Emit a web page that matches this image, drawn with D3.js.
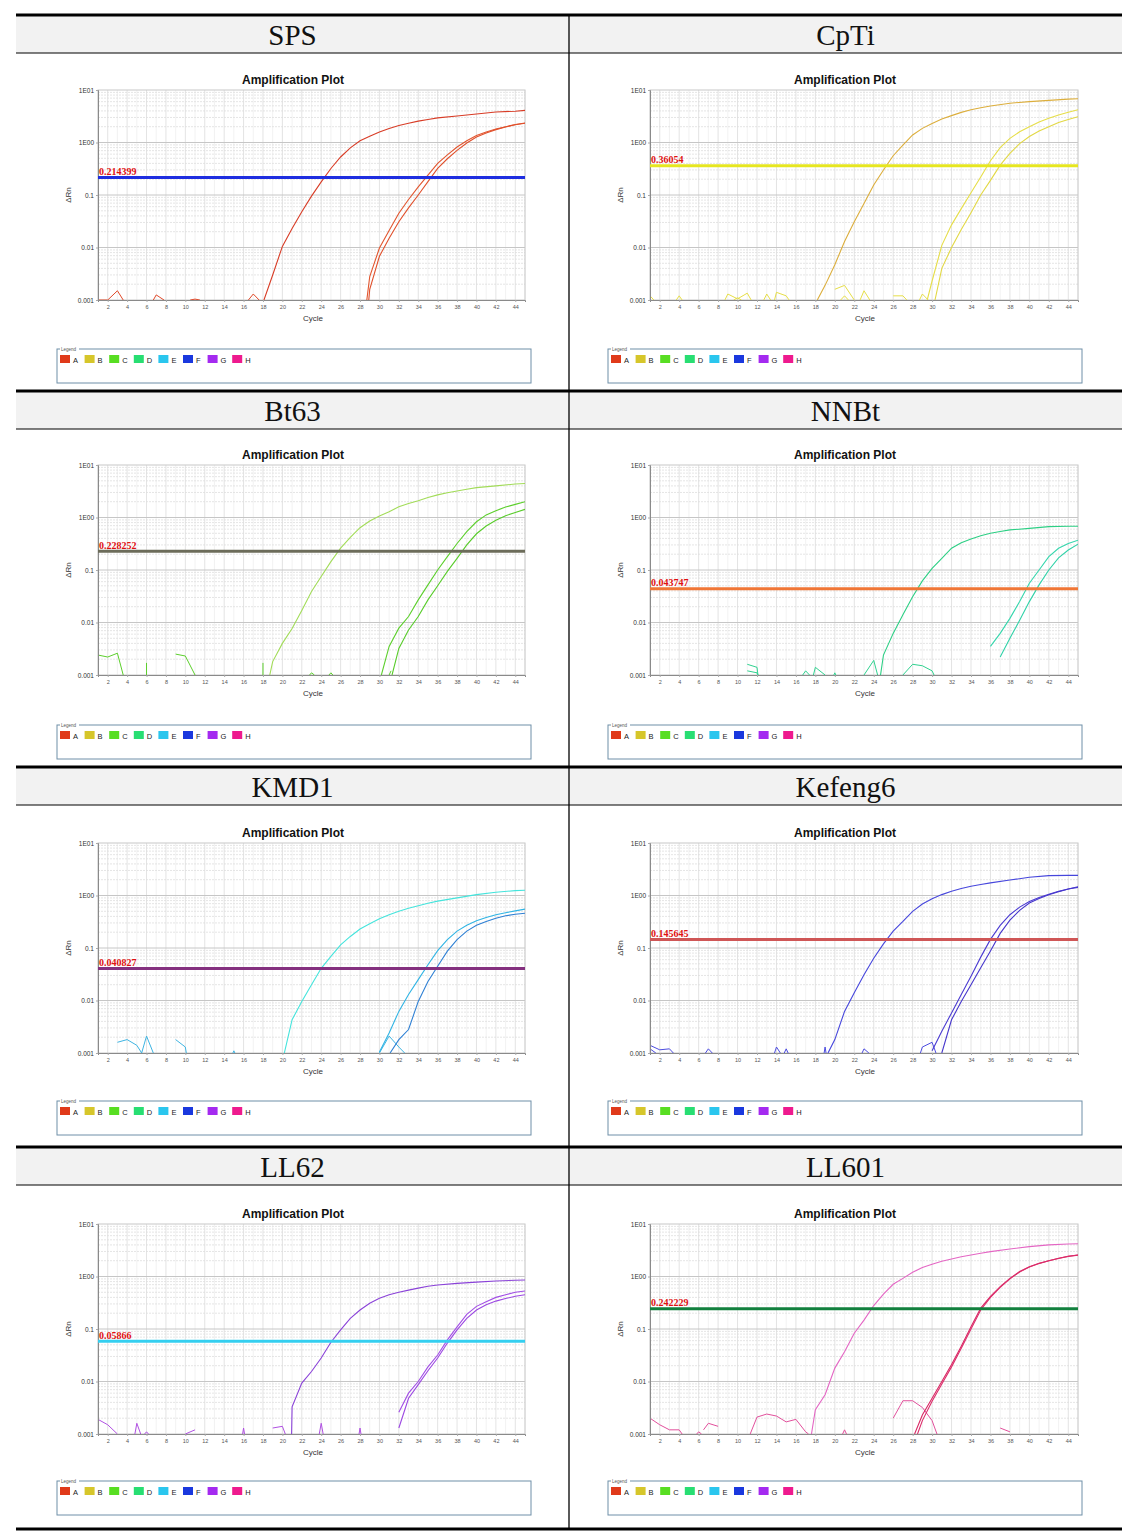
<!DOCTYPE html>
<html><head><meta charset="utf-8">
<script src="https://cdn.jsdelivr.net/npm/d3@7"></script>
<style>body{margin:0;background:#fff}svg{display:block}</style>
</head><body><svg id="c" width="1138" height="1532"></svg>
<script>
// ---------- DATA ----------
const headers = ["SPS","CpTi","Bt63","NNBt","KMD1","Kefeng6","LL62","LL601"];
const thresholds = [0.214399,0.36054,0.228252,0.043747,0.040827,0.145645,0.05866,0.242229];
const thresholdLabels = ["0.214399","0.36054","0.228252","0.043747","0.040827","0.145645","0.05866","0.242229"];
const cycleTicks = [2,4,6,8,10,12,14,16,18,20,22,24,26,28,30,32,34,36,38,40,42,44];
const yTicks = [10,1,0.1,0.01,0.001];
const yTickLabels = ["1E01","1E00","0.1","0.01","0.001"];
const legendKeys = ["A","B","C","D","E","F","G","H"];

// SPS
const spsEarly = [[18.1,0.001],[19,0.003],[20,0.0105],[21,0.023],[22,0.048],[23,0.095],[24,0.178],[25,0.32],[26,0.53],[27,0.79],[28,1.08],[29,1.32],[30,1.58],[31,1.85],[32,2.1],[33,2.33],[34,2.55],[35,2.75],[36,2.95],[38,3.2],[40,3.5],[42,3.8],[44,3.95],[45,4.1]];
const spsLateA = [[28.7,0.001],[29,0.0028],[30,0.0098],[31,0.021],[32,0.045],[33,0.082],[34,0.143],[35,0.24],[36,0.4],[37,0.58],[38,0.82],[39,1.08],[40,1.36],[41,1.58],[42,1.8],[43,2.0],[44,2.2],[45,2.35]];
const spsLateB = [[28.9,0.001],[29,0.0016],[30,0.0068],[31,0.015],[32,0.031],[33,0.057],[34,0.1],[35,0.18],[36,0.32],[37,0.49],[38,0.71],[39,0.98],[40,1.27],[41,1.52],[42,1.76],[43,1.98],[44,2.18],[45,2.33]];
const spsNoise1 = [[1,0.001],[2,0.001],[3,0.0015],[3.6,0.001]];
const spsNoise2 = [[6.7,0.001],[7,0.00125],[7.8,0.001]];
const spsNoise3 = [[10.5,0.001],[11,0.00104],[11.5,0.001]];
const spsNoise4 = [[16.5,0.001],[17,0.0013],[17.6,0.001]];

// CpTi
const cptiEarly = [[18.2,0.001],[19,0.0019],[20,0.0047],[21,0.013],[22,0.031],[23,0.069],[24,0.155],[25,0.30],[26,0.56],[27,0.89],[28,1.39],[29,1.86],[30,2.3],[31,2.8],[32,3.25],[33,3.75],[34,4.2],[35,4.6],[36,4.95],[38,5.6],[40,6.0],[42,6.35],[44,6.7],[45,6.8]];
const cptiLateA = [[29.5,0.001],[30,0.0023],[31,0.011],[32,0.027],[33,0.055],[34,0.11],[35,0.22],[36,0.45],[37,0.8],[38,1.2],[39,1.6],[40,2.0],[41,2.45],[42,2.9],[43,3.35],[44,3.76],[45,4.2]];
const cptiLateB = [[30.3,0.001],[31,0.004],[32,0.01],[33,0.022],[34,0.046],[35,0.1],[36,0.19],[37,0.37],[38,0.62],[39,0.95],[40,1.3],[41,1.65],[42,2.0],[43,2.4],[44,2.75],[45,3.1]];
const cptiNoise1 = [[1,0.0012],[1.4,0.001]];
const cptiNoise2 = [[3.7,0.001],[4,0.0012],[4.3,0.001]];
const cptiNoise3 = [[8.7,0.001],[9,0.0013],[10,0.00105],[11,0.00135],[11.4,0.001]];
const cptiNoise4 = [[9.6,0.001],[10,0.0011],[10.4,0.001]];
const cptiNoise5 = [[12.7,0.001],[13,0.0013],[13.4,0.001]];
const cptiNoise6 = [[13.8,0.001],[14,0.0014],[15,0.0012],[15.3,0.001]];
const cptiNoise7 = [[20,0.0016],[21,0.0019],[22,0.001]];
const cptiNoise8 = [[20.6,0.001],[21,0.0012],[21.4,0.001]];
const cptiNoise9 = [[22.6,0.001],[23,0.0015],[23.6,0.001]];
const cptiNoise10 = [[26,0.0012],[27,0.0012],[27.4,0.001]];
const cptiNoise11 = [[28.7,0.001],[29,0.0013],[29.6,0.001]];

// Bt63
const bt63Early = [[18.7,0.001],[19,0.0018],[20,0.004],[21,0.0077],[22,0.017],[23,0.039],[24,0.075],[25,0.144],[26,0.26],[27,0.42],[28,0.64],[29,0.86],[30,1.07],[31,1.29],[32,1.6],[33,1.85],[34,2.09],[35,2.4],[36,2.7],[37,2.95],[38,3.2],[39,3.45],[40,3.7],[42,4.0],[44,4.35],[45,4.45]];
const bt63LateA = [[30.2,0.001],[31,0.0035],[32,0.0078],[33,0.013],[34,0.027],[35,0.052],[36,0.10],[37,0.18],[38,0.32],[39,0.54],[40,0.83],[41,1.12],[42,1.35],[43,1.58],[44,1.78],[45,2.0]];
const bt63LateB = [[31.3,0.001],[32,0.0032],[33,0.0072],[34,0.013],[35,0.027],[36,0.05],[37,0.094],[38,0.166],[39,0.30],[40,0.49],[41,0.69],[42,0.89],[43,1.08],[44,1.25],[45,1.43]];
const bt63Noise1 = [[1,0.0024],[2,0.0022],[3,0.0026],[3.6,0.001]];
const bt63Noise2 = [[6,0.001],[6,0.0017]];
const bt63Noise3 = [[9,0.0025],[10,0.0023],[11,0.001]];
const bt63Noise4 = [[18,0.001],[18,0.0017]];
const bt63Noise5 = [[22.8,0.001],[23,0.0011],[23.3,0.001]];
const bt63Noise6 = [[24.8,0.001],[25,0.0011],[25.2,0.001]];
const bt63Noise7 = [[31,0.001],[31.2,0.0012]];

// NNBt
const nnbtEarly = [[24.7,0.001],[25,0.0024],[26,0.0062],[27,0.014],[28,0.031],[29,0.062],[30,0.107],[31,0.166],[32,0.26],[33,0.33],[34,0.39],[35,0.45],[36,0.50],[37,0.54],[38,0.58],[40,0.62],[42,0.67],[44,0.68],[45,0.68]];
const nnbtLateA = [[36,0.0035],[37,0.0062],[38,0.012],[39,0.025],[40,0.056],[41,0.1],[42,0.18],[43,0.26],[44,0.32],[45,0.37]];
const nnbtLateB = [[37,0.0022],[38,0.005],[39,0.011],[40,0.025],[41,0.052],[42,0.1],[43,0.17],[44,0.24],[45,0.31]];
const nnbtNoise1 = [[11,0.0016],[12,0.0014],[12.1,0.001]];
const nnbtNoise2 = [[11,0.0012],[12,0.0011],[12.1,0.001]];
const nnbtNoise3 = [[16.7,0.001],[17,0.0012],[17.4,0.001]];
const nnbtNoise4 = [[17.8,0.001],[18,0.0014],[19,0.001]];
const nnbtNoise5 = [[19.9,0.001],[20,0.0011],[20.1,0.001]];
const nnbtNoise6 = [[23,0.001],[24,0.0019],[24.4,0.001]];
const nnbtNoise7 = [[27,0.001],[28,0.0016],[29,0.0015],[30,0.0012],[30.2,0.001]];

// KMD1
const kmdEarly = [[20.2,0.001],[21,0.0043],[22,0.0096],[23,0.02],[24,0.041],[25,0.069],[26,0.115],[27,0.166],[28,0.23],[29,0.29],[30,0.36],[31,0.43],[32,0.50],[33,0.57],[34,0.64],[35,0.71],[36,0.78],[38,0.90],[40,1.04],[42,1.15],[44,1.24],[45,1.26]];
const kmdLateA = [[30,0.00105],[31,0.0024],[32,0.0062],[33,0.013],[34,0.025],[35,0.048],[36,0.089],[37,0.144],[38,0.21],[39,0.27],[40,0.33],[41,0.38],[42,0.43],[43,0.47],[44,0.51],[45,0.55]];
const kmdLateB = [[31.1,0.001],[32,0.0018],[33,0.0028],[34,0.0096],[35,0.023],[36,0.045],[37,0.087],[38,0.144],[39,0.21],[40,0.27],[41,0.32],[42,0.37],[43,0.41],[44,0.44],[45,0.46]];
const kmdNoise1 = [[3,0.0016],[4,0.0018],[5,0.0014],[5.5,0.001],[6,0.0021],[6.7,0.001]];
const kmdNoise2 = [[9,0.0018],[10,0.0013],[10.1,0.001]];
const kmdNoise3 = [[14.9,0.001],[15,0.0011],[15.1,0.001]];
const kmdNoise4 = [[30,0.001],[31,0.0021],[32,0.0013],[32.6,0.001]];

// Kefeng6
const kfEarly = [[19.3,0.001],[20,0.0018],[21,0.0062],[22,0.014],[23,0.031],[24,0.064],[25,0.12],[26,0.21],[27,0.32],[28,0.50],[29,0.69],[30,0.87],[31,1.04],[32,1.2],[33,1.36],[34,1.5],[35,1.62],[36,1.74],[38,1.97],[40,2.22],[42,2.39],[44,2.42],[45,2.42]];
const kfLateA = [[30,0.0011],[31,0.0026],[32,0.0058],[33,0.013],[34,0.029],[35,0.067],[36,0.146],[37,0.27],[38,0.43],[39,0.6],[40,0.77],[41,0.92],[42,1.06],[43,1.2],[44,1.33],[45,1.43]];
const kfLateB = [[31,0.001],[32,0.0043],[33,0.0096],[34,0.02],[35,0.042],[36,0.088],[37,0.19],[38,0.34],[39,0.52],[40,0.72],[41,0.88],[42,1.03],[43,1.18],[44,1.33],[45,1.47]];
const kfNoise1 = [[1,0.0014],[2,0.00115],[3,0.0012],[3.4,0.001]];
const kfNoise2 = [[1,0.0012],[1.6,0.001]];
const kfNoise3 = [[6.7,0.001],[7,0.0012],[7.4,0.001]];
const kfNoise4 = [[13.8,0.001],[14,0.0013],[14.4,0.001]];
const kfNoise5 = [[14.8,0.001],[15,0.0012],[15.2,0.001]];
const kfNoise6 = [[18.9,0.001],[19,0.0013],[19.1,0.001]];
const kfNoise7 = [[22.8,0.001],[23,0.0012],[23.5,0.001]];
const kfNoise8 = [[28.8,0.001],[29,0.0013],[30,0.0016],[30.4,0.001]];

// LL62
const ll62Early = [[20.95,0.001],[21,0.0033],[22,0.0093],[23,0.0155],[24,0.028],[25,0.056],[26,0.096],[27,0.16],[28,0.23],[29,0.31],[30,0.385],[31,0.45],[32,0.50],[33,0.55],[34,0.60],[35,0.65],[36,0.69],[38,0.74],[40,0.78],[42,0.82],[44,0.85],[45,0.86]];
const ll62LateA = [[32,0.0026],[33,0.006],[34,0.01],[35,0.019],[36,0.032],[37,0.062],[38,0.11],[39,0.19],[40,0.27],[41,0.33],[42,0.40],[43,0.45],[44,0.50],[45,0.53]];
const ll62LateB = [[32,0.0013],[33,0.0048],[34,0.0087],[35,0.016],[36,0.028],[37,0.054],[38,0.096],[39,0.16],[40,0.23],[41,0.29],[42,0.34],[43,0.38],[44,0.42],[45,0.45]];
const ll62Noise1 = [[1,0.0019],[2,0.0015],[3,0.001]];
const ll62Noise2 = [[4.8,0.001],[5,0.0016],[5.4,0.001]];
const ll62Noise3 = [[5.8,0.001],[6,0.0011],[6.2,0.001]];
const ll62Noise4 = [[10,0.001],[11,0.0012]];
const ll62Noise5 = [[15.9,0.001],[16,0.0013],[16.1,0.001]];
const ll62Noise6 = [[19,0.0013],[20,0.0014],[20.3,0.001]];
const ll62Noise7 = [[23.8,0.001],[24,0.0016],[24.2,0.001]];
const ll62Noise8 = [[27.9,0.001],[28,0.0013],[28.1,0.001]];

// LL601
const ll601Early = [[17.6,0.001],[18,0.0029],[19,0.0056],[20,0.018],[21,0.037],[22,0.083],[23,0.148],[24,0.28],[25,0.46],[26,0.71],[27,0.92],[28,1.2],[29,1.48],[30,1.71],[31,1.95],[32,2.16],[33,2.37],[34,2.57],[35,2.78],[36,2.98],[38,3.35],[40,3.7],[42,4.0],[44,4.17],[45,4.2]];
const ll601LateA = [[28.2,0.001],[29,0.0023],[30,0.0048],[31,0.01],[32,0.021],[33,0.047],[34,0.11],[35,0.25],[36,0.42],[37,0.64],[38,0.92],[39,1.24],[40,1.54],[41,1.78],[42,2.0],[43,2.22],[44,2.43],[45,2.57]];
const ll601LateB = [[28.5,0.001],[29,0.0018],[30,0.0042],[31,0.009],[32,0.019],[33,0.043],[34,0.1],[35,0.23],[36,0.4],[37,0.62],[38,0.9],[39,1.22],[40,1.52],[41,1.77],[42,1.99],[43,2.21],[44,2.42],[45,2.55]];
const ll601Noise1 = [[1,0.002],[2,0.0015],[3,0.0012],[4,0.0012],[4.3,0.001]];
const ll601Noise2 = [[5.8,0.001],[6,0.0011],[6.3,0.001]];
const ll601Noise3 = [[6.5,0.0012],[7,0.0016],[8,0.0014]];
const ll601Noise4 = [[11.3,0.001],[12,0.0021],[13,0.0024],[14,0.0022],[15,0.0017],[16,0.0019],[17,0.0011],[17.3,0.001]];
const ll601Noise5 = [[20.8,0.001],[21,0.0012],[21.2,0.001]];
const ll601Noise6 = [[26,0.002],[27,0.0043],[28,0.0043],[29,0.0032],[30,0.0018],[30.5,0.001]];
const ll601Noise7 = [[37,0.0013],[38,0.0011]];

const panelSeries = [
  [spsEarly, spsLateA, spsLateB],
  [cptiEarly, cptiLateA, cptiLateB],
  [bt63Early, bt63LateA, bt63LateB],
  [nnbtEarly, nnbtLateA, nnbtLateB],
  [kmdEarly, kmdLateA, kmdLateB],
  [kfEarly, kfLateA, kfLateB],
  [ll62Early, ll62LateA, ll62LateB],
  [ll601Early, ll601LateA, ll601LateB]
];
const panelNoise = [
  [spsNoise1, spsNoise2, spsNoise3, spsNoise4],
  [cptiNoise1, cptiNoise2, cptiNoise3, cptiNoise4, cptiNoise5, cptiNoise6, cptiNoise7, cptiNoise8, cptiNoise9, cptiNoise10, cptiNoise11],
  [bt63Noise1, bt63Noise2, bt63Noise3, bt63Noise4, bt63Noise5, bt63Noise6, bt63Noise7],
  [nnbtNoise1, nnbtNoise2, nnbtNoise3, nnbtNoise4, nnbtNoise5, nnbtNoise6, nnbtNoise7],
  [kmdNoise1, kmdNoise2, kmdNoise3, kmdNoise4],
  [kfNoise1, kfNoise2, kfNoise3, kfNoise4, kfNoise5, kfNoise6, kfNoise7, kfNoise8],
  [ll62Noise1, ll62Noise2, ll62Noise3, ll62Noise4, ll62Noise5, ll62Noise6, ll62Noise7, ll62Noise8],
  [ll601Noise1, ll601Noise2, ll601Noise3, ll601Noise4, ll601Noise5, ll601Noise6, ll601Noise7]
];

// ---------- STYLES ----------
const seriesColors = [
  ["#d83c26","#e2552e","#e0502c"],
  ["#dcae3c","#e6de48","#e2d844"],
  ["#a2dc58","#5ccf2c","#58cc2a"],
  ["#2ccf84","#34d6ac","#30d2a8"],
  ["#44e4dc","#30b4e4","#2f80d4"],
  ["#4646dc","#4a3ad2","#4636cc"],
  ["#8a42d8","#a24ee6","#9c48e2"],
  ["#e466c4","#d82864","#dc2c6a"]
];
const noiseColors = ["#e04a2a","#e6de48","#5ccf2c","#30d290","#3eb4e2","#4c4ce0","#b050e2","#e2509c"];
const thresholdColors = ["#1e2ee0","#e6e620","#6c6c5a","#f07636","#84307f","#cf5656","#34cff0","#12803e"];
const legendColors = ["#e03a1a","#d6c62a","#58de22","#28de72","#2ac6ee","#1a38de","#a42af0","#ee1a8e"];

// ---------- LAYOUT ----------
const svg = d3.select("#c");
const tableL = 16, tableR = 1122, divX = 569;
const rowTops = [15, 391, 767, 1147], tableBottom = 1529, headH = 38;
const plotTops = [90, 465, 843, 1224], plotH = 210;
const plotLefts = [98, 650], plotWs = [427, 428];
const legendLefts = [57, 608], legendW = 474, legendH = 34, legendOff = 334;
const sans = "'Liberation Sans', Arial, sans-serif";
const serif = "'Liberation Serif', 'Times New Roman', serif";

svg.append("rect").attr("width",1138).attr("height",1532).attr("fill","#fff");

rowTops.forEach(t => {
  svg.append("rect").attr("x",tableL).attr("y",t).attr("width",tableR-tableL).attr("height",headH).attr("fill","#f2f2f2");
});
svg.append("line").attr("x1",divX).attr("x2",divX).attr("y1",rowTops[0]).attr("y2",tableBottom)
  .attr("stroke","#000").attr("stroke-width",1.3);
rowTops.concat([tableBottom]).forEach(t => {
  svg.append("line").attr("x1",tableL).attr("x2",tableR).attr("y1",t).attr("y2",t)
    .attr("stroke","#000").attr("stroke-width",3.2);
});
rowTops.forEach(t => {
  svg.append("line").attr("x1",tableL).attr("x2",tableR).attr("y1",t+headH).attr("y2",t+headH)
    .attr("stroke","#000").attr("stroke-width",1.2);
});

const defs = svg.append("defs");

headers.forEach((name, i) => {
  const r = Math.floor(i/2), c = i % 2;
  const L = plotLefts[c], PW = plotWs[c], T = plotTops[r];
  const cx = c ? (divX+tableR)/2 : (tableL+divX)/2;

  svg.append("text").attr("x",cx).attr("y",rowTops[r]+30).attr("text-anchor","middle")
    .style("font-family",serif).style("font-size","29px").style("fill","#111").text(name);

  const x = d3.scaleLinear().domain([1,45]).range([L, L+PW]);
  const y = d3.scaleLog().domain([0.001,10]).range([T+plotH, T]);
  const g = svg.append("g");

  // title
  g.append("text").attr("x", L+195).attr("y", T-6).attr("text-anchor","middle")
    .style("font-family",sans).style("font-weight","bold").style("font-size","12px").style("fill","#111")
    .text("Amplification Plot");

  // grid
  g.selectAll(".vg").data(d3.range(1,46)).join("line")
    .attr("x1",d=>x(d)).attr("x2",d=>x(d)).attr("y1",T).attr("y2",T+plotH)
    .attr("stroke",d=> d%2===0 ? "#dcdcdc" : "#efefef").attr("stroke-width",0.8);
  const minors = [];
  [0.001,0.01,0.1,1].forEach(k => { for (let m=2;m<=9;m++) minors.push(k*m); });
  g.selectAll(".hm").data(minors).join("line")
    .attr("x1",L).attr("x2",L+PW).attr("y1",d=>y(d)).attr("y2",d=>y(d))
    .attr("stroke","#dedede").attr("stroke-width",0.8).attr("stroke-dasharray","2,1");
  g.selectAll(".hM").data([0.01,0.1,1]).join("line")
    .attr("x1",L).attr("x2",L+PW).attr("y1",d=>y(d)).attr("y2",d=>y(d))
    .attr("stroke","#c6c6c6").attr("stroke-width",1);
  g.append("rect").attr("x",L).attr("y",T).attr("width",PW).attr("height",plotH)
    .attr("fill","none").attr("stroke","#c8c8c8").attr("stroke-width",1);

  // clip
  const cid = "clip"+i;
  defs.append("clipPath").attr("id",cid).append("rect")
    .attr("x",L).attr("y",T-1).attr("width",PW).attr("height",plotH+1);
  const cg = g.append("g").attr("clip-path",`url(#${cid})`);
  const line = d3.line().x(d=>x(d[0])).y(d=>y(d[1]));

  panelNoise[i].forEach(s => {
    cg.append("path").attr("d",line(s)).attr("fill","none")
      .attr("stroke",noiseColors[i]).attr("stroke-width",1);
  });
  panelSeries[i].forEach((s,j) => {
    cg.append("path").attr("d",line(s)).attr("fill","none")
      .attr("stroke",seriesColors[i][j]).attr("stroke-width",1.1);
  });

  // axes
  const xa = g.append("g").attr("transform",`translate(0,${T+plotH})`)
    .call(d3.axisBottom(x).tickValues(cycleTicks).tickSize(2).tickPadding(3));
  xa.select(".domain").attr("stroke","#8a8a8a");
  xa.selectAll(".tick line").attr("stroke","#aaa");
  xa.selectAll("text").style("font-family",sans).style("font-size","5.5px").style("fill","#555");
  const ya = g.append("g").attr("transform",`translate(${L},0)`)
    .call(d3.axisLeft(y).tickValues(yTicks).tickFormat((d,j)=>yTickLabels[j]).tickSize(2).tickPadding(2));
  ya.select(".domain").attr("stroke","#8a8a8a");
  ya.selectAll(".tick line").attr("stroke","#aaa");
  ya.selectAll("text").style("font-family",sans).style("font-size","6.5px").style("fill","#333");

  // threshold (on top)
  g.append("line").attr("x1",L).attr("x2",L+PW).attr("y1",y(thresholds[i])).attr("y2",y(thresholds[i]))
    .attr("stroke",thresholdColors[i]).attr("stroke-width",3);
  g.append("text").attr("x",L+1).attr("y",y(thresholds[i])-2.5)
    .style("font-family",serif).style("font-weight","bold").style("font-size","10px").style("fill","#e01010")
    .text(thresholdLabels[i]);

  // axis titles
  g.append("text").attr("transform",`translate(${L-27},${T+plotH/2}) rotate(-90)`).attr("text-anchor","middle")
    .style("font-family",sans).style("font-size","8px").style("fill","#333").text("ΔRn");
  g.append("text").attr("x",L+215).attr("y",T+plotH+21).attr("text-anchor","middle")
    .style("font-family",sans).style("font-size","8px").style("fill","#333").text("Cycle");

  // legend
  const LX = legendLefts[c], LY = rowTops[r] + legendOff;
  const lg = svg.append("g");
  lg.append("rect").attr("x",LX).attr("y",LY).attr("width",legendW).attr("height",legendH)
    .attr("fill","#fff").attr("stroke","#6f8fa8").attr("stroke-width",1);
  lg.append("rect").attr("x",LX+3).attr("y",LY-2).attr("width",19).attr("height",4).attr("fill","#fff");
  lg.append("text").attr("x",LX+4).attr("y",LY+1.5)
    .style("font-family",sans).style("font-size","4.5px").style("fill","#555").text("Legend");
  const items = lg.selectAll(".li").data(legendKeys).join("g")
    .attr("transform",(d,k)=>`translate(${LX+3+k*24.6},${LY+6})`);
  items.append("rect").attr("width",10).attr("height",8).attr("fill",(d,k)=>legendColors[k]);
  items.append("text").attr("x",13).attr("y",7.5)
    .style("font-family",sans).style("font-size","7.5px").style("fill","#222").text(d=>d);
});
</script></body></html>
